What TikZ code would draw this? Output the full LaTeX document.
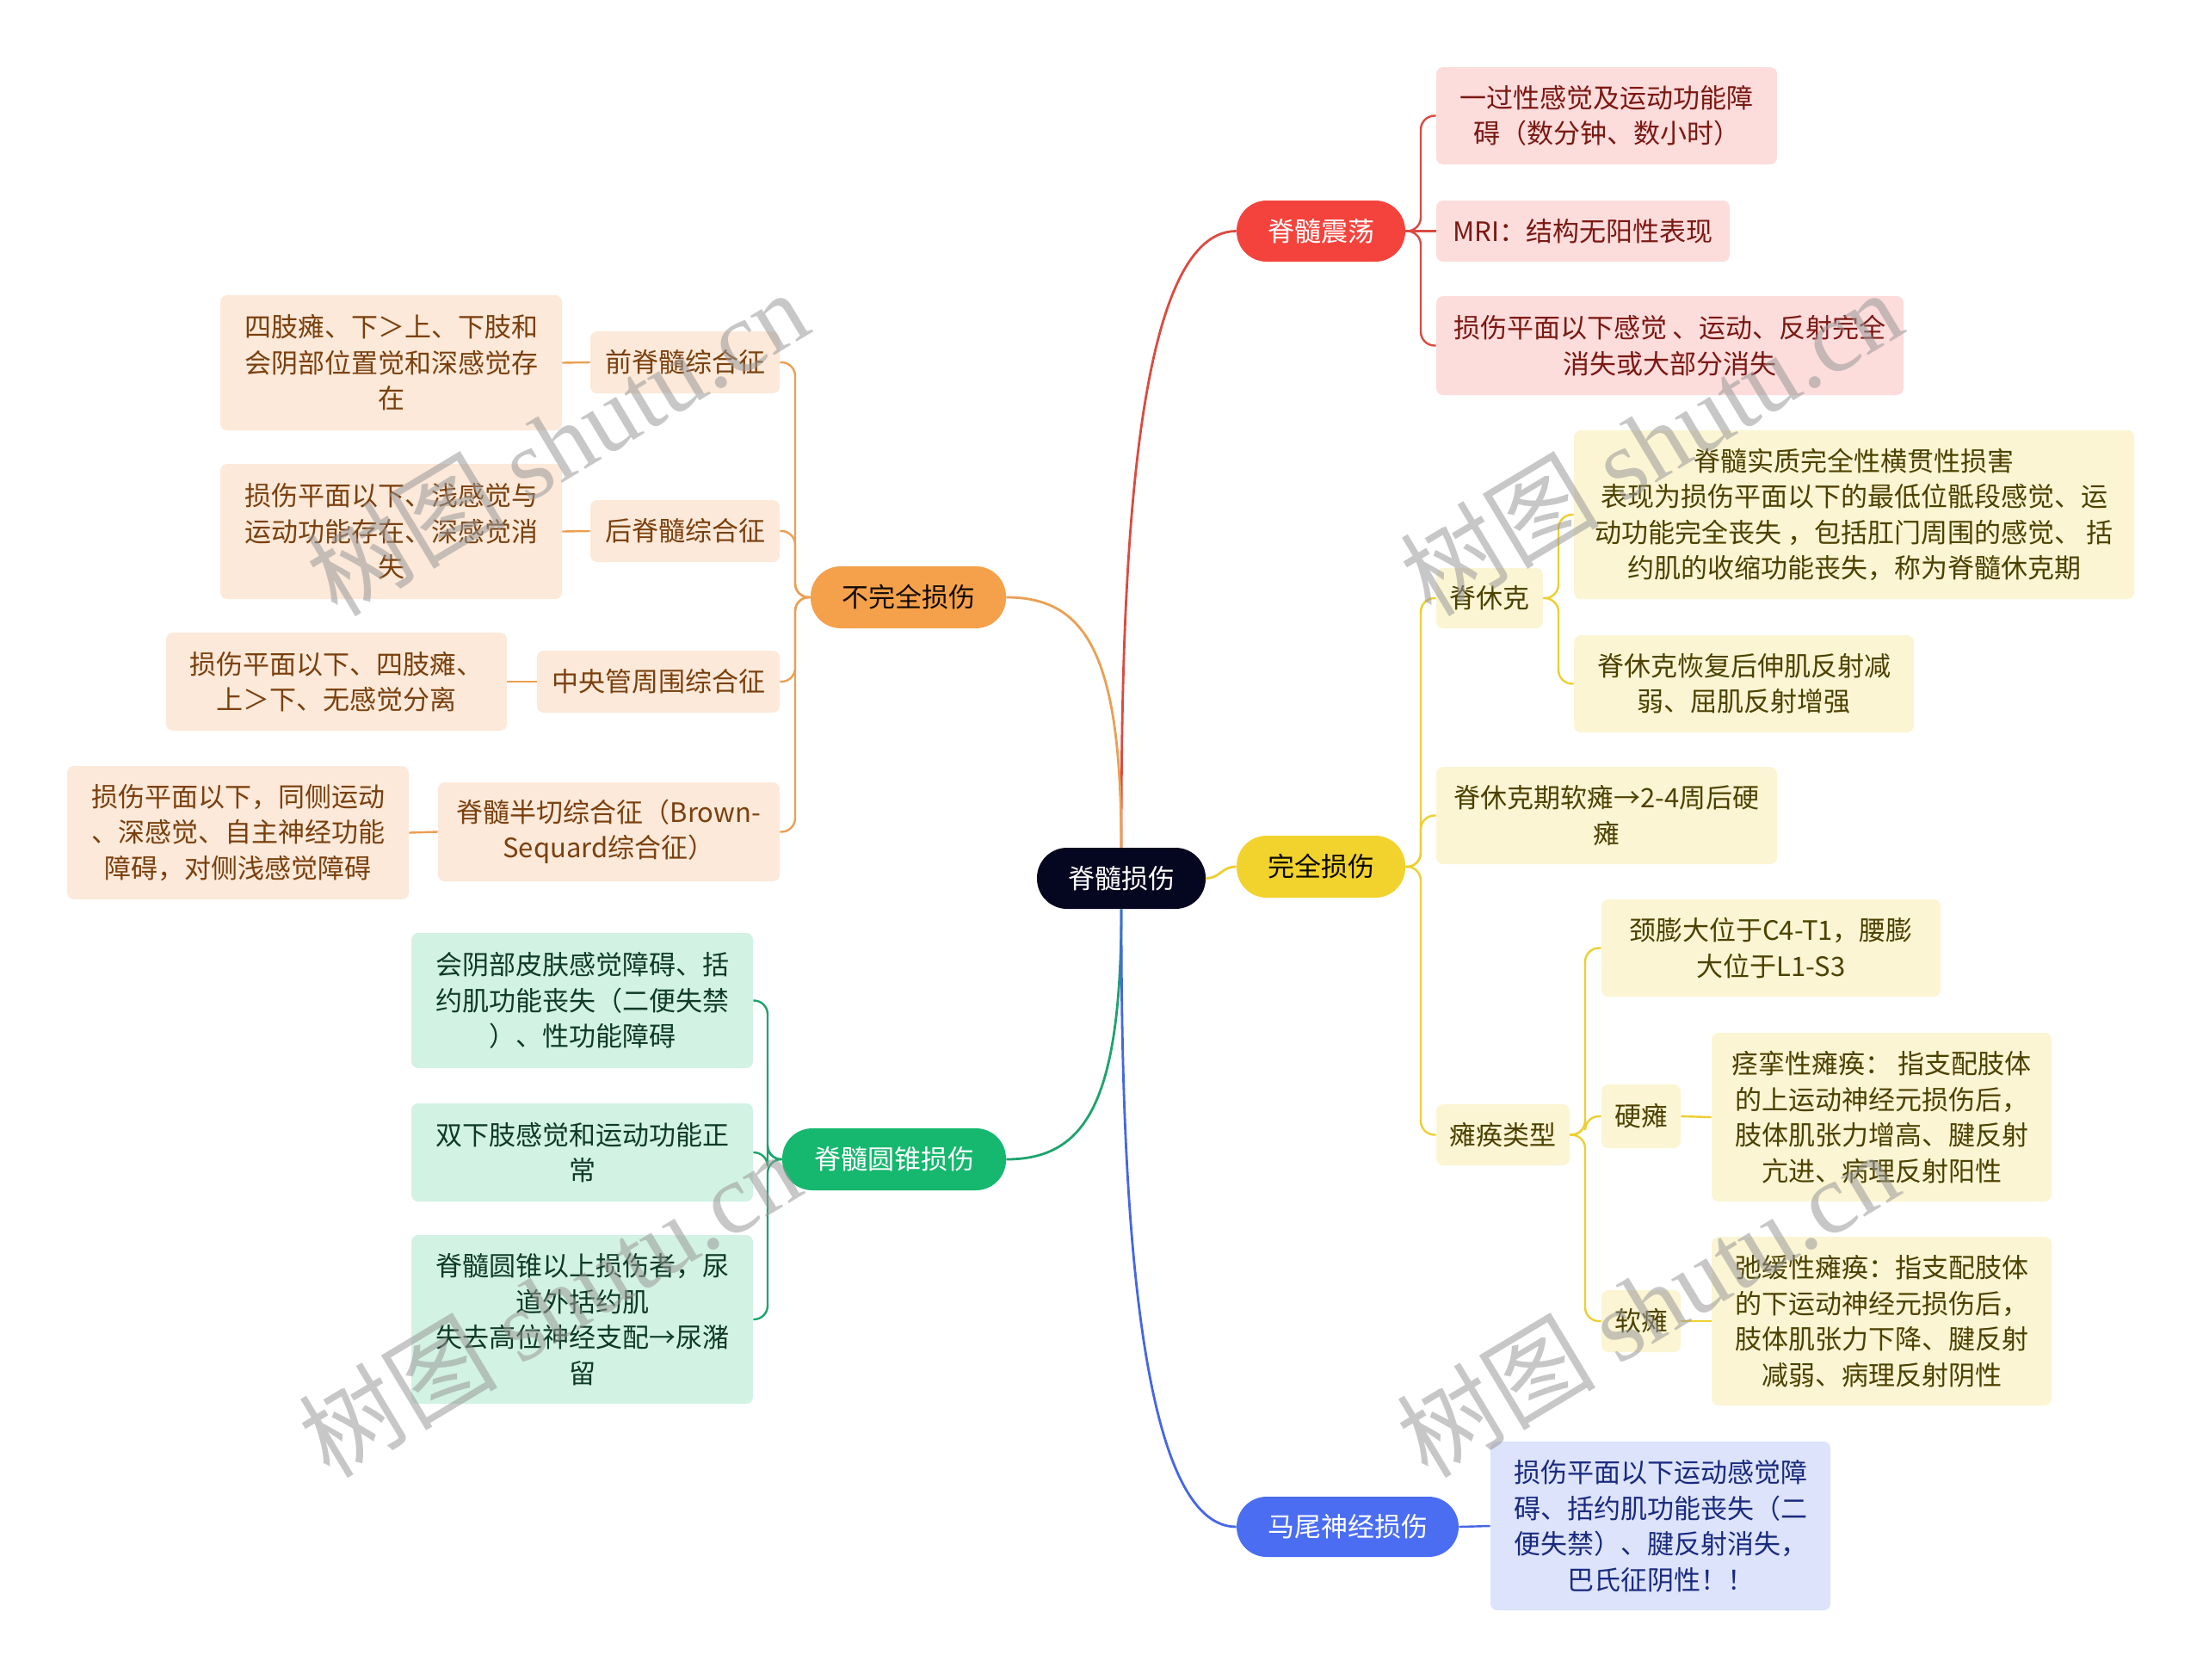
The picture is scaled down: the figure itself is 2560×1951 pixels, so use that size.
\documentclass[tikz,border=0pt]{standalone}
\usepackage{fontspec}
\setmainfont{Noto Sans CJK SC}
\newfontfamily\wmserif{Liberation Serif}
\newfontfamily\wmcjk{Noto Sans CJK SC}
\usetikzlibrary{calc}
\newcommand\mmfont{\fontsize{15.5pt}{20.75pt}\selectfont}
\definecolor{cRoot}{HTML}{05061F}
\definecolor{cRed}{HTML}{F4433C}
\definecolor{cRedL}{HTML}{DC4A40}
\definecolor{cRedF}{HTML}{FDDCDC}
\definecolor{cRedT}{HTML}{7A1812}
\definecolor{cYel}{HTML}{F2D22C}
\definecolor{cYelL}{HTML}{EDCF30}
\definecolor{cYelF}{HTML}{FBF5D3}
\definecolor{cYelT}{HTML}{4C4100}
\definecolor{cBlu}{HTML}{4A6DF2}
\definecolor{cBluL}{HTML}{4566E6}
\definecolor{cBluF}{HTML}{DCE3FB}
\definecolor{cBluT}{HTML}{1A2A7E}
\definecolor{cOrg}{HTML}{F5A14B}
\definecolor{cOrgL}{HTML}{EC9F52}
\definecolor{cOrgF}{HTML}{FCE9D9}
\definecolor{cOrgT}{HTML}{7A400E}
\definecolor{cGrn}{HTML}{15B86E}
\definecolor{cGrnL}{HTML}{1CA46E}
\definecolor{cGrnF}{HTML}{D2F2E3}
\definecolor{cGrnT}{HTML}{0E3A27}
\begin{document}
\begin{tikzpicture}[x=0.5pt,y=-0.5pt,
  sz/.style 2 args={minimum width=#1*0.5pt, minimum height=#2*0.5pt},
  pill/.style={rounded corners=17.5pt, inner sep=0pt, align=center, font=\mmfont},
  leaf/.style={rounded corners=4pt, inner sep=0pt, align=center, font=\mmfont},
  redleaf/.style={leaf, fill=cRedF, text=cRedT},
  yelleaf/.style={leaf, fill=cYelF, text=cYelT},
  bluleaf/.style={leaf, fill=cBluF, text=cBluT},
  orgleaf/.style={leaf, fill=cOrgF, text=cOrgT},
  grnleaf/.style={leaf, fill=cGrnF, text=cGrnT},
  lone/.style={line width=1.4pt},
  ltwo/.style={line width=1.2pt, rounded corners=8pt},
  wm/.style={text=black!40, opacity=0.55, font=\fontsize{58pt}{60pt}\selectfont, rotate=31}
]
\fill[white] (0,0) rectangle (2560,1951);
\useasboundingbox (0,0) rectangle (2560,1951);

% bracket x positions
\coordinate (bxR) at (1651,0);
\coordinate (bxY) at (1651,0);
\coordinate (bxS) at (1811,0);
\coordinate (bxT) at (1842,0);
\coordinate (bxO) at (924,0);
\coordinate (bxG) at (892,0);

% root and main branches
\node[pill, fill=cRoot, text=white, sz={196}{71}] (root) at (1303,1020.5) {脊髓损伤};
\node[pill, fill=cRed, text=white, sz={196}{71}] (zd) at (1535,268.5) {脊髓震荡};
\node[pill, fill=cYel, text=black!85!cYelT, sz={196}{72}] (wq) at (1535,1007) {完全损伤};
\node[pill, fill=cBlu, text=white, sz={258}{70}] (mw) at (1566,1774) {马尾神经损伤};
\node[pill, fill=cOrg, text=black!85!cOrgT, sz={227}{72}] (bw) at (1055.5,694) {不完全损伤};
\node[pill, fill=cGrn, text=white, sz={260}{72}] (zy) at (1039,1347) {脊髓圆锥损伤};

% red leaves
\node[redleaf, sz={396}{113}] (r1) at (1867,134.5) {一过性感觉及运动功能障\\碍（数分钟、数小时）};
\node[redleaf, sz={341}{71}] (r2) at (1839.5,268.5) {MRI：结构无阳性表现};
\node[redleaf, sz={543}{115}] (r3) at (1940.5,401.5) {损伤平面以下感觉 、运动、反射完全\\消失或大部分消失};

% yellow leaves
\node[yelleaf, sz={124}{70}] (y1) at (1731,695) {脊休克};
\node[yelleaf, sz={651}{196}] (y11) at (2154.5,598) {脊髓实质完全性横贯性损害\\表现为损伤平面以下的最低位骶段感觉、运\\动功能完全丧失 ，包括肛门周围的感觉、 括\\约肌的收缩功能丧失，称为脊髓休克期};
\node[yelleaf, sz={395}{113}] (y12) at (2026.5,794.5) {脊休克恢复后伸肌反射减\\弱、屈肌反射增强};
\node[yelleaf, sz={396}{113}] (y2) at (1867,947.5) {脊休克期软瘫→2-4周后硬\\瘫};
\node[yelleaf, sz={155}{71}] (y3) at (1746.5,1318.5) {瘫痪类型};
\node[yelleaf, sz={394}{113}] (y31) at (2058,1101.5) {颈膨大位于C4-T1，腰膨\\大位于L1-S3};
\node[yelleaf, sz={92}{74}] (y32) at (1907,1297) {硬瘫};
\node[yelleaf, sz={395}{196}] (y321) at (2186.5,1298) {痉挛性瘫痪： 指支配肢体\\的上运动神经元损伤后，\\肢体肌张力增高、腱反射\\亢进、病理反射阳性};
\node[yelleaf, sz={92}{72}] (y33) at (1907,1535) {软瘫};
\node[yelleaf, sz={395}{196}] (y331) at (2186.5,1535) {弛缓性瘫痪：指支配肢体\\的下运动神经元损伤后，\\肢体肌张力下降、腱反射\\减弱、病理反射阴性};

% blue leaf
\node[bluleaf, sz={395}{196}] (b1) at (1929.5,1773) {损伤平面以下运动感觉障\\碍、括约肌功能丧失（二\\便失禁）、腱反射消失，\\巴氏征阴性！！};

% orange leaves
\node[orgleaf, sz={220}{72}] (o1) at (796,421) {前脊髓综合征};
\node[orgleaf, sz={397}{157}] (o11) at (454.5,421.5) {四肢瘫、下＞上、下肢和\\会阴部位置觉和深感觉存\\在};
\node[orgleaf, sz={220}{72}] (o2) at (796,617) {后脊髓综合征};
\node[orgleaf, sz={397}{157}] (o21) at (454.5,617.5) {损伤平面以下、浅感觉与\\运动功能存在、深感觉消\\失};
\node[orgleaf, sz={282}{72}] (o3) at (765,792) {中央管周围综合征};
\node[orgleaf, sz={396}{114}] (o31) at (391,792) {损伤平面以下、四肢瘫、\\上＞下、无感觉分离};
\node[orgleaf, sz={397}{115}] (o4) at (707.5,966.5) {脊髓半切综合征（Brown-\\Sequard综合征）};
\node[orgleaf, sz={397}{155}] (o41) at (276.5,967.5) {损伤平面以下，同侧运动\\、深感觉、自主神经功能\\障碍，对侧浅感觉障碍};

% green leaves
\node[grnleaf, sz={397}{157}] (g1) at (676.5,1162.5) {会阴部皮肤感觉障碍、括\\约肌功能丧失（二便失禁\\）、性功能障碍};
\node[grnleaf, sz={397}{114}] (g2) at (676.5,1339) {双下肢感觉和运动功能正\\常};
\node[grnleaf, sz={397}{196}] (g3) at (676.5,1533) {脊髓圆锥以上损伤者，尿\\道外括约肌\\失去高位神经支配→尿潴\\留};

% level-1 connectors
\draw[lone, cRedL] (root.north) .. controls (1303,700) and (1312,268.5) .. (zd.west);
\draw[lone, cOrgL] (bw.east) .. controls (1262,694) and (1303,760) .. (root.north);
\draw[lone, cGrnL] (zy.east) .. controls (1262,1347) and (1303,1280) .. (root.south);
\draw[lone, cBluL] (root.south) .. controls (1303,1320) and (1312,1774) .. (mw.west);
\draw[lone, cYelL] (root.east) .. controls (1419,1020) and (1419,1007) .. (wq.west);

% red brackets
\draw[ltwo, cRedL] (zd.east) -- (zd.east -| bxR) |- (r1.west);
\draw[ltwo, cRedL] (zd.east) -- (r2.west);
\draw[ltwo, cRedL] (zd.east) -- (zd.east -| bxR) |- (r3.west);

% yellow brackets
\draw[ltwo, cYelL] (wq.east) -- (wq.east -| bxY) |- (y1.west);
\draw[ltwo, cYelL] (wq.east) -- (wq.east -| bxY) |- (y2.west);
\draw[ltwo, cYelL] (wq.east) -- (wq.east -| bxY) |- (y3.west);
\draw[ltwo, cYelL] (y1.east) -- (y1.east -| bxS) |- (y11.west);
\draw[ltwo, cYelL] (y1.east) -- (y1.east -| bxS) |- (y12.west);
\draw[ltwo, cYelL] (y3.east) -- (y3.east -| bxT) |- (y31.west);
\draw[ltwo, cYelL] (y3.east) -- (y3.east -| bxT) |- (y32.west);
\draw[ltwo, cYelL] (y3.east) -- (y3.east -| bxT) |- (y33.west);
\draw[ltwo, cYelL] (y32.east) -- (y321.west);
\draw[ltwo, cYelL] (y33.east) -- (y331.west);

% blue
\draw[ltwo, cBluL] (mw.east) -- (b1.west);

% orange brackets
\draw[ltwo, cOrgL] (bw.west) -- (bw.west -| bxO) |- (o1.east);
\draw[ltwo, cOrgL] (bw.west) -- (bw.west -| bxO) |- (o2.east);
\draw[ltwo, cOrgL] (bw.west) -- (bw.west -| bxO) |- (o3.east);
\draw[ltwo, cOrgL] (bw.west) -- (bw.west -| bxO) |- (o4.east);
\draw[ltwo, cOrgL] (o1.west) -- (o11.east);
\draw[ltwo, cOrgL] (o2.west) -- (o21.east);
\draw[ltwo, cOrgL] (o3.west) -- (o31.east);
\draw[ltwo, cOrgL] (o4.west) -- (o41.east);

% green brackets
\draw[ltwo, cGrnL] (zy.west) -- (zy.west -| bxG) |- (g1.east);
\draw[ltwo, cGrnL] (zy.west) -- (zy.west -| bxG) |- (g2.east);
\draw[ltwo, cGrnL] (zy.west) -- (zy.west -| bxG) |- (g3.east);

% watermarks
\node[wm] (wm1) at (647,514) {\wmcjk 树图 \wmserif shutu.cn};
\node[wm] (wm2) at (1918,514) {\wmcjk 树图 \wmserif shutu.cn};
\node[wm] (wm3) at (638,1515) {\wmcjk 树图 \wmserif shutu.cn};
\node[wm] (wm4) at (1914,1515) {\wmcjk 树图 \wmserif shutu.cn};
\end{tikzpicture}
\end{document}
